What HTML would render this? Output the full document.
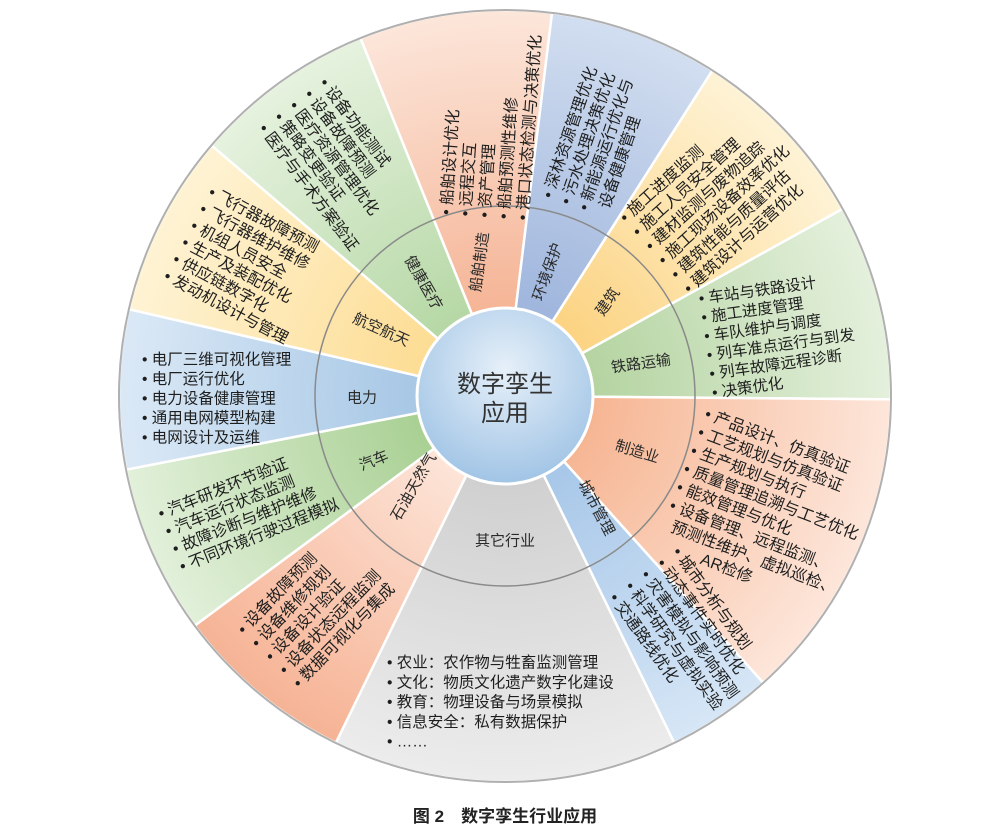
<!DOCTYPE html>
<html><head><meta charset="utf-8"><style>
html,body{margin:0;padding:0;background:#fff;}
svg{display:block;font-family:"Liberation Sans","Noto Sans CJK SC",sans-serif;}
</style></head><body>
<svg id="chart" width="990" height="831" viewBox="0 0 990 831">
<defs id="defs"></defs>
<g id="sectors"></g>
<circle cx="505" cy="396" r="190" fill="none" stroke="#8a8a8a" stroke-width="1.5"/>
<circle cx="505" cy="396" r="386" fill="none" stroke="#b0b0b0" stroke-width="2"/>
<g id="labels"></g>
<g id="lists"></g>
<radialGradient id="cg" cx="50%" cy="35%" r="70%"><stop offset="0" stop-color="#e6f0f9"/><stop offset="1" stop-color="#9cc1e4"/></radialGradient>
<circle cx="505" cy="396" r="88" fill="url(#cg)" stroke="#fff" stroke-width="3"/>
<text x="505" y="392" text-anchor="middle" font-size="24" fill="#333">数字孪生</text>
<text x="505" y="421" text-anchor="middle" font-size="24" fill="#333">应用</text>
<text x="505" y="822" text-anchor="middle" font-size="17" font-weight="bold" fill="#222">图 2　数字孪生行业应用</text>
</svg>
<script>
const names=["船舶制造","环境保护","建筑","铁路运输","制造业","城市管理","其它行业","石油天然气","汽车","电力","航空航天","健康医疗"];
const starts=[338,7,32.5,61,90.5,138,154,206,233.5,259,283,310.5];
const ends=[367,32.5,61,90.5,138,154,206,233.5,259,283,310.5,338];
const innerColors=["#f5b394","#9db4dc","#fcd27f","#b3d39f","#f6b491","#a6c6e8","#cfcfcf","#fde6da","#a7cf91","#a5c6e5","#fddc92","#b4d7a3"];
const outerColors=["#fce6da","#d2def0","#fef3d6","#e4f0dc","#fde6da","#d6e6f6","#ececec","#f6b395","#e2f0da","#dbe9f6","#fef3d4","#e6f2df"];
const CX=505,CY=396,R=386;
const ns="http://www.w3.org/2000/svg";
function pt(a,r){const t=a*Math.PI/180;return [CX+r*Math.sin(t),CY-r*Math.cos(t)];}
const defs=document.getElementById('defs'),sg=document.getElementById('sectors');
names.forEach((n,i)=>{
  const g=document.createElementNS(ns,'radialGradient');
  g.setAttribute('id','g'+i);g.setAttribute('gradientUnits','userSpaceOnUse');
  g.setAttribute('cx',CX);g.setAttribute('cy',CY);g.setAttribute('r',R);
  g.innerHTML='<stop offset="0.2" stop-color="'+innerColors[i]+'"/><stop offset="1" stop-color="'+outerColors[i]+'"/>';
  defs.appendChild(g);
  const a0=starts[i],a1=ends[i];
  const p0=pt(a0,R),p1=pt(a1,R);
  const large=(a1-a0)>180?1:0;
  const p=document.createElementNS(ns,'path');
  p.setAttribute('d','M'+CX+','+CY+' L'+p0[0]+','+p0[1]+' A'+R+','+R+' 0 '+large+' 1 '+p1[0]+','+p1[1]+' Z');
  p.setAttribute('fill','url(#g'+i+')');p.setAttribute('stroke','#fff');p.setAttribute('stroke-width','2.5');
  
  
  sg.appendChild(p);
});
const labelPos=[[480,262,-82],[548,272,-70],[608,302,-55],[641,364,-8],[637,452,17],[596,508,62],[505,541,0],[414,487,-60],[374,461,-22],[362,398,0],[381,330,24],[423,283,60]];
const lg=document.getElementById('labels');
names.forEach((n,i)=>{
  const t=document.createElementNS(ns,'text');
  const [x,y,r]=labelPos[i];
  t.setAttribute('transform','translate('+x+','+y+') rotate('+r+')');
  t.setAttribute('text-anchor','middle');t.setAttribute('dominant-baseline','central');
  t.setAttribute('font-size','15');t.setAttribute('fill','#2a2a2a');
  t.textContent=n;
  
  
  lg.appendChild(t);
});
const lists=[
 {x:447,y:212,r:-86,sp:19.2,fs:16,items:["•船舶设计优化","•远程交互","•资产管理","•船舶预测性维修","•港口状态检测与决策优化"]},
 {x:549,y:195,r:-71,sp:19,fs:16,items:["•深林资源管理优化","•污水处理决策优化","•新能源运行优化与","  设备健康管理"]},
 {x:625,y:218,r:-42,sp:19.1,fs:16,items:["•施工进度监测","•施工人员安全管理","•建材监测与废物追踪","•施工现场设备效率优化","•建筑性能与质量评估","•建筑设计与运营优化"]},
 {x:702,y:299,r:-8,sp:19,fs:15.5,items:["•车站与铁路设计","•施工进度管理","•车队维护与调度","•列车准点运行与到发","•列车故障远程诊断","•决策优化"]},
 {x:708,y:415,r:21,sp:19.6,fs:16,items:["•产品设计、仿真验证","•工艺规划与仿真验证","•生产规划与执行","•质量管理追溯与工艺优化","•能效管理与优化","•设备管理、远程监测、","  预测性维护、虚拟巡检、","           AR检修"]},
 {x:677,y:552,r:54,sp:19.5,fs:16,items:["•城市分析与规划","•动态事件实时优化","•灾害模拟与影响预测","•科学研究与虚拟实验","•交通路线优化"]},
 {x:390,y:663,r:0,sp:19.8,fs:15.5,items:["•农业：农作物与牲畜监测管理","•文化：物质文化遗产数字化建设","•教育：物理设备与场景模拟","•信息安全：私有数据保护","•……"]},
 {x:243,y:630,r:-46,sp:19.3,fs:16,items:["•设备故障预测","•设备维修规划","•设备设计验证","•设备状态远程监测","•数据可视化与集成"]},
 {x:162,y:514,r:-22,sp:19,fs:16,items:["•汽车研发环节验证","•汽车运行状态监测","•故障诊断与维护维修","•不同环境行驶过程模拟"]},
 {x:145,y:360,r:0,sp:19.5,fs:15.5,items:["•电厂三维可视化管理","•电厂运行优化","•电力设备健康管理","•通用电网模型构建","•电网设计及运维"]},
 {x:212,y:193,r:28,sp:19,fs:16,items:["•飞行器故障预测","•飞行器维护维修","•机组人员安全","•生产及装配优化","•供应链数字化","•发动机设计与管理"]},
 {x:324,y:83,r:53,sp:19,fs:16,items:["•设备功能测试","•设备故障预测","•医疗资源管理优化","•策略变更验证","•医疗与手术方案验证"]}
];
const lsg=document.getElementById('lists');
lists.forEach((L,i)=>{
  const g=document.createElementNS(ns,'g');
  g.setAttribute('transform','translate('+L.x+','+L.y+') rotate('+L.r+')');
  
  
  L.items.forEach((s,j)=>{
    const t=document.createElementNS(ns,'text');
    t.setAttribute('x',-3);t.setAttribute('y',j*L.sp);
    t.setAttribute('dominant-baseline','central');
    t.setAttribute('font-size', L.fs);
    t.setAttribute('fill','#1e1e1e');
    t.style.whiteSpace='pre';
    t.textContent=s.replace('•','• ');
    
    
    g.appendChild(t);
  });
  lsg.appendChild(g);
});
</script>
</body></html>
